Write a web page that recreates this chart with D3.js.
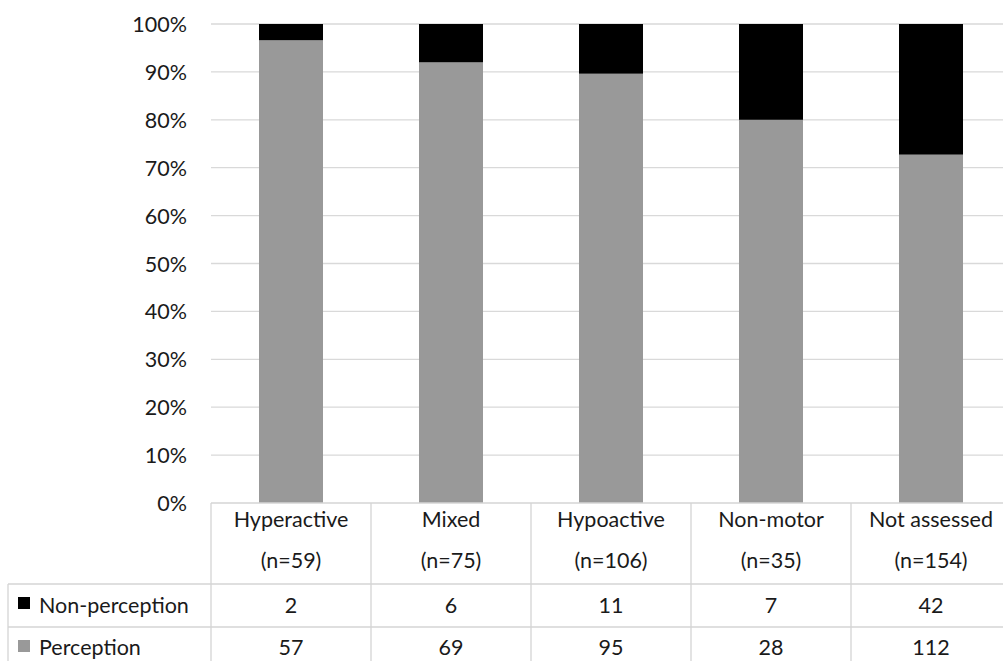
<!DOCTYPE html>
<html>
<head>
<meta charset="utf-8">
<script src="https://cdn.jsdelivr.net/npm/d3@7"></script>
<style>
  html, body { margin: 0; padding: 0; background: #fff; }
  svg { display: block; }
  text { font-family: Lato, "Open Sans", sans-serif; fill: #1a1a1a; }
</style>
</head>
<body>
<svg id="chart" width="1003" height="661"></svg>
<script>
const categories = ["Hyperactive", "Mixed", "Hypoactive", "Non-motor", "Not assessed"];
const categoryN = ["(n=59)", "(n=75)", "(n=106)", "(n=35)", "(n=154)"];
const seriesNames = ["Non-perception", "Perception"];
const nonPerception = [2, 6, 11, 7, 42];
const perception = [57, 69, 95, 28, 112];
const yTicks = [0, 0.1, 0.2, 0.3, 0.4, 0.5, 0.6, 0.7, 0.8, 0.9, 1.0];
const seriesColors = { "Non-perception": "#000000", "Perception": "#999999" };

const svg = d3.select("#chart");
const W = 1003, H = 661;
const plotLeft = 211, plotRight = 1011, plotTop = 24, plotBottom = 503;
const tableLeft = 8;
const headerBottom = 584, row1Bottom = 627;
const fontSize = 21.5;

const x = d3.scaleBand().domain(categories).range([plotLeft, plotRight]).paddingInner(0).paddingOuter(0);
const y = d3.scaleLinear().domain([0, 1]).range([plotBottom, plotTop]);
const barW = x.bandwidth() * 0.4;

// gridlines
svg.append("g").selectAll("line").data(yTicks.filter(t => t > 0)).join("line")
  .attr("x1", plotLeft).attr("x2", W)
  .attr("y1", d => y(d)).attr("y2", d => y(d))
  .attr("stroke", "#d9d9d9").attr("stroke-width", 1.3);

// y axis labels
const yAxis = d3.axisLeft(y).tickValues(yTicks).tickFormat(d3.format(".0%")).tickSize(0).tickPadding(0);
const yg = svg.append("g").attr("transform", `translate(${187},0)`).call(yAxis);
yg.select(".domain").remove();
yg.selectAll("text").attr("font-size", fontSize).attr("font-family", "Lato, sans-serif").attr("fill", "#1a1a1a").attr("dy", "0.35em");

// stacked data
const data = categories.map((c, i) => {
  const tot = perception[i] + nonPerception[i];
  return { cat: c, "Perception": perception[i] / tot, "Non-perception": nonPerception[i] / tot };
});
const stack = d3.stack().keys(["Perception", "Non-perception"]);
const stacked = stack(data);

svg.append("g").selectAll("g").data(stacked).join("g")
  .attr("fill", d => seriesColors[d.key])
  .selectAll("rect").data(d => d).join("rect")
  .attr("x", d => x(d.data.cat) + (x.bandwidth() - barW) / 2)
  .attr("width", barW)
  .attr("y", d => y(d[1]))
  .attr("height", d => y(d[0]) - y(d[1]));

// data table
const tg = svg.append("g");
const borderColor = "#d4d4d4";
tg.append("line").attr("x1", plotLeft).attr("x2", W).attr("y1", plotBottom).attr("y2", plotBottom).attr("stroke", borderColor).attr("stroke-width", 1.3);
tg.append("line").attr("x1", tableLeft).attr("x2", W).attr("y1", headerBottom).attr("y2", headerBottom).attr("stroke", borderColor).attr("stroke-width", 1.3);
tg.append("line").attr("x1", tableLeft).attr("x2", W).attr("y1", row1Bottom).attr("y2", row1Bottom).attr("stroke", borderColor).attr("stroke-width", 1.3);
const vx = categories.map(c => x(c)).concat([plotRight]);
tg.selectAll("line.v").data(vx).join("line").attr("class", "v")
  .attr("x1", d => d).attr("x2", d => d)
  .attr("y1", plotBottom).attr("y2", H)
  .attr("stroke", borderColor).attr("stroke-width", 1.3);
tg.append("line").attr("x1", tableLeft).attr("x2", tableLeft).attr("y1", headerBottom).attr("y2", H).attr("stroke", borderColor).attr("stroke-width", 1.3);

// header text
tg.selectAll("text.cat").data(categories).join("text").attr("class", "cat")
  .attr("x", d => x(d) + x.bandwidth() / 2).attr("y", 527)
  .attr("text-anchor", "middle").attr("font-size", fontSize).text(d => d);
tg.selectAll("text.n").data(categoryN).join("text").attr("class", "n")
  .attr("x", (d, i) => x(categories[i]) + x.bandwidth() / 2).attr("y", 568)
  .attr("text-anchor", "middle").attr("font-size", fontSize).text(d => d);

// rows
const rows = [
  { name: seriesNames[0], vals: nonPerception, base: 613, sq: 597 },
  { name: seriesNames[1], vals: perception, base: 655, sq: 640 }
];
rows.forEach(r => {
  tg.append("rect").attr("x", 18).attr("y", r.sq).attr("width", 12).attr("height", 12).attr("fill", seriesColors[r.name]);
  tg.append("text").attr("x", 39).attr("y", r.base).attr("font-size", fontSize).text(r.name);
  tg.selectAll(null).data(r.vals).join("text")
    .attr("x", (d, i) => x(categories[i]) + x.bandwidth() / 2).attr("y", r.base)
    .attr("text-anchor", "middle").attr("font-size", fontSize).text(d => d);
});
</script>
</body>
</html>
